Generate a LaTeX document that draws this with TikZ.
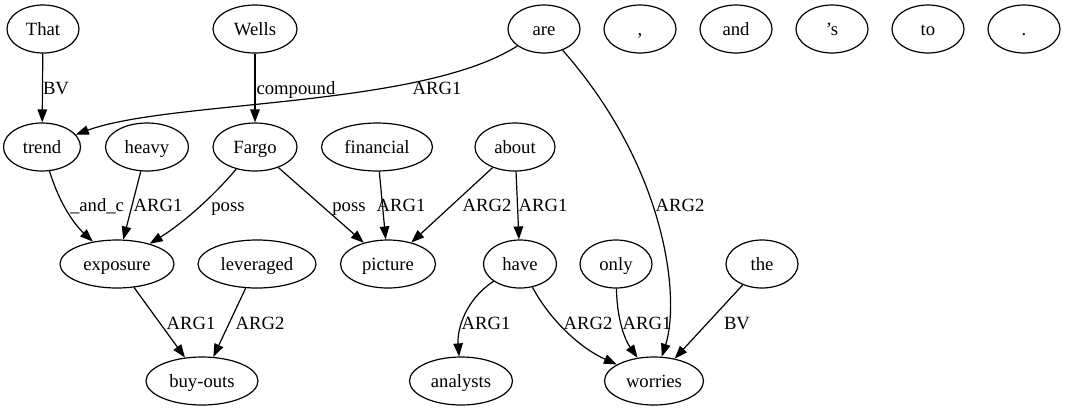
\documentclass[tikz,border=0pt]{standalone}
\usepackage{fontspec}
\setmainfont{Liberation Serif}
\usetikzlibrary{arrows.meta,shapes.geometric}
\begin{document}
\begin{tikzpicture}[x=1bp,y=-1bp,
  every node/.style={font=\fontsize{18.67bp}{22bp}\selectfont},
  nd/.style={ellipse,draw,line width=1.2bp,inner sep=0pt,text height=14bp,text depth=2bp,minimum height=48bp,minimum width=#1},
  nd/.default=72bp,
  lbl/.style={inner sep=0pt,text height=14bp,text depth=2bp},
  edge/.style={draw,line width=1.2bp,-{Triangle[length=13bp,width=9.5bp]}}]
\useasboundingbox (0,0) rectangle (1065,411);
% row 1
\node[nd] (that) at (43,29) {That};
\node[nd=84bp] (wells) at (255,29) {Wells};
\node[nd] (are) at (544,29) {are};
\node[nd] (comma) at (640,29) {,};
\node[nd] (and) at (736,29) {and};
\node[nd] (s) at (832,29) {’s};
\node[nd] (to) at (928,29) {to};
\node[nd] (dot) at (1024,29) {.};
% row 2
\node[nd=77bp] (trend) at (42,147) {trend};
\node[nd=83bp] (heavy) at (147,147) {heavy};
\node[nd=84bp] (fargo) at (255,147) {Fargo};
\node[nd=111bp] (financial) at (377,147) {financial};
\node[nd=80bp] (about) at (515,147) {about};
% row 3
\node[nd=114bp] (exposure) at (117,264) {exposure};
\node[nd=118bp] (leveraged) at (257,264) {leveraged};
\node[nd=95bp] (picture) at (388,264) {picture};
\node[nd=73bp] (have) at (520,264) {have};
\node[nd] (only) at (616,264) {only};
\node[nd] (the) at (762,264) {the};
% row 4
\node[nd=112bp] (buyouts) at (202,381) {buy-outs};
\node[nd=103bp] (analysts) at (461,381) {analysts};
\node[nd=99bp] (worries) at (654,381) {worries};
% edges
\path[edge] (that) -- (trend);
\node[lbl] (l1) at (56,88) {BV};
\path[edge] (wells) -- (fargo);
\node[lbl] (l2) at (296,88) {compound};
\path[edge] (are) .. controls (420,108) and (170,100) .. (trend);
\node[lbl] (l3) at (437,88) {ARG1};
\path[edge] (are) .. controls (668,170) and (680,300) .. (worries);
\node[lbl] (l4) at (680,205) {ARG2};
\path[edge] (trend) .. controls (60,205) and (75,225) .. (exposure);
\node[lbl] (l5) at (97,205) {\_and\_c};
\path[edge] (heavy) -- (exposure);
\node[lbl] (l6) at (158,205) {ARG1};
\path[edge] (fargo) .. controls (210,200) and (180,225) .. (exposure);
\node[lbl] (l7) at (228,205) {poss};
\path[edge] (fargo) -- (picture);
\node[lbl] (l8) at (349,205) {poss};
\path[edge] (financial) -- (picture);
\node[lbl] (l9) at (401,205) {ARG1};
\path[edge] (about) -- (picture);
\node[lbl] (l10) at (487,205) {ARG2};
\path[edge] (about) -- (have);
\node[lbl] (l11) at (543,205) {ARG1};
\path[edge] (exposure) -- (buyouts);
\node[lbl] (l12) at (191,323) {ARG1};
\path[edge] (leveraged) -- (buyouts);
\node[lbl] (l13) at (260,323) {ARG2};
\path[edge] (have) .. controls (465,300) and (457,330) .. (analysts);
\node[lbl] (l14) at (486,323) {ARG1};
\path[edge] (have) .. controls (550,320) and (580,348) .. (worries);
\node[lbl] (l15) at (588,323) {ARG2};
\path[edge] (only) .. controls (617,320) and (625,340) .. (worries);
\node[lbl] (l16) at (647,323) {ARG1};
\path[edge] (the) -- (worries);
\node[lbl] (l17) at (737,323) {BV};
\end{tikzpicture}
\end{document}
